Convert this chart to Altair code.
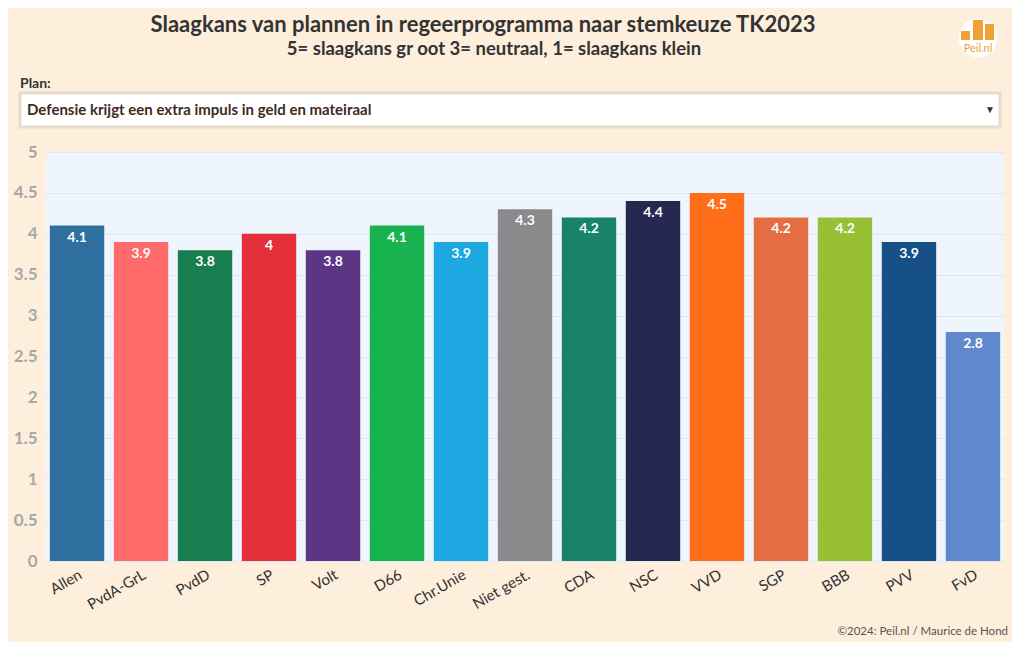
import altair as alt
import pandas as pd

parties = ["Allen", "PvdA-GrL", "PvdD", "SP", "Volt", "D66", "Chr.Unie", "Niet gest.",
           "CDA", "NSC", "VVD", "SGP", "BBB", "PVV", "FvD"]
scores = [4.1, 3.9, 3.8, 4.0, 3.8, 4.1, 3.9, 4.3, 4.2, 4.4, 4.5, 4.2, 4.2, 3.9, 2.8]
colors = ["#2E6F9E", "#FF6B6B", "#187E4F", "#E4303A", "#5C3585", "#18B350", "#1DA8E2",
          "#8A8A8C", "#18826B", "#27284F", "#FF6F19", "#E46E42", "#98C035", "#174F87", "#6088CD"]
y_ticks = [0, 0.5, 1, 1.5, 2, 2.5, 3, 3.5, 4, 4.5, 5]

title = "Slaagkans van plannen in regeerprogramma naar stemkeuze TK2023"
subtitle = "5= slaagkans gr oot 3= neutraal, 1= slaagkans klein"
plan_label = "Plan:"
plan_choice = "Defensie krijgt een extra impuls in geld en mateiraal"
credit = "©2024: Peil.nl / Maurice de Hond"

FONT = "Lato"

df = pd.DataFrame({"party": parties, "score": scores,
                   "label": [f"{v:g}" for v in scores]})

xenc = alt.X("party:N", sort=parties,
             scale=alt.Scale(paddingInner=0.15, paddingOuter=0.06),
             axis=alt.Axis(title=None, labelAngle=-30, labelAlign="right", labelBaseline="top",
                           labelFontSize=15, labelColor="#333333", labelFont=FONT,
                           ticks=False, domain=False, labelPadding=6))
yenc = alt.Y("score:Q", scale=alt.Scale(domain=[0, 5]),
             axis=alt.Axis(title=None, values=y_ticks, format="~g", labelFontSize=17,
                           labelColor="#A8A8A8", labelFontWeight="bold", labelFont=FONT,
                           ticks=False, domain=False, labelPadding=9,
                           gridColor="#E2E8EF", gridWidth=1))

bars = alt.Chart(df).mark_bar().encode(
    x=xenc, y=yenc,
    color=alt.Color("party:N", sort=parties, scale=alt.Scale(domain=parties, range=colors), legend=None),
)
labels = alt.Chart(df).mark_text(dy=12, color="white", fontWeight="bold", fontSize=14,
                                 font=FONT, baseline="middle").encode(
    x=alt.X("party:N", sort=parties), y="score:Q", text="label:N")

one = pd.DataFrame({"k": [0]})

def txt(s, x, y, size, weight="bold", color="#333333", align="center"):
    return alt.Chart(one).mark_text(text=s, fontSize=size, fontWeight=weight, color=color,
                                    align=align, baseline="middle", font=FONT).encode(
        x=alt.value(x), y=alt.value(y))

box = alt.Chart(one).mark_rect(fill="white", stroke="#E6DCCD", strokeWidth=3).encode(
    x=alt.value(-26), x2=alt.value(954), y=alt.value(-59), y2=alt.value(-25))
circle = alt.Chart(one).mark_point(filled=True, color="white", opacity=1, size=1500, shape="circle").encode(
    x=alt.value(932), y=alt.value(-114))

def logo_bar(x1, x2, y1):
    return alt.Chart(one).mark_rect(color="#F0A035").encode(
        x=alt.value(x1), x2=alt.value(x2), y=alt.value(y1), y2=alt.value(-112))

chart = alt.layer(
    bars, labels,
    txt(title, 437, -127, 22),
    txt(subtitle, 448, -103, 18.5),
    txt(plan_label, -26, -68, 14, align="left"),
    box,
    txt(plan_choice, -19, -42, 15, color="#3D2B1F", align="left"),
    txt("▼", 944, -42, 10, weight="normal", color="#333333"),
    txt(credit, 962, 480, 11.5, weight="normal", color="#555555", align="right"),
    circle,
    logo_bar(915, 924, -121), logo_bar(927, 937, -132), logo_bar(939, 948, -128),
    txt("Peil.nl", 932, -103, 11, weight="normal", color="#E8A33D"),
).properties(
    width=958, height=409,
    autosize=alt.AutoSizeParams(type="none"),
    padding={"left": 38, "top": 144, "right": 8, "bottom": 81},
    background="#FDEFDC",
).configure_view(fill="#EEF5FC", stroke=None)

chart.save("out.html", embed_options={"renderer": "svg", "actions": False})
